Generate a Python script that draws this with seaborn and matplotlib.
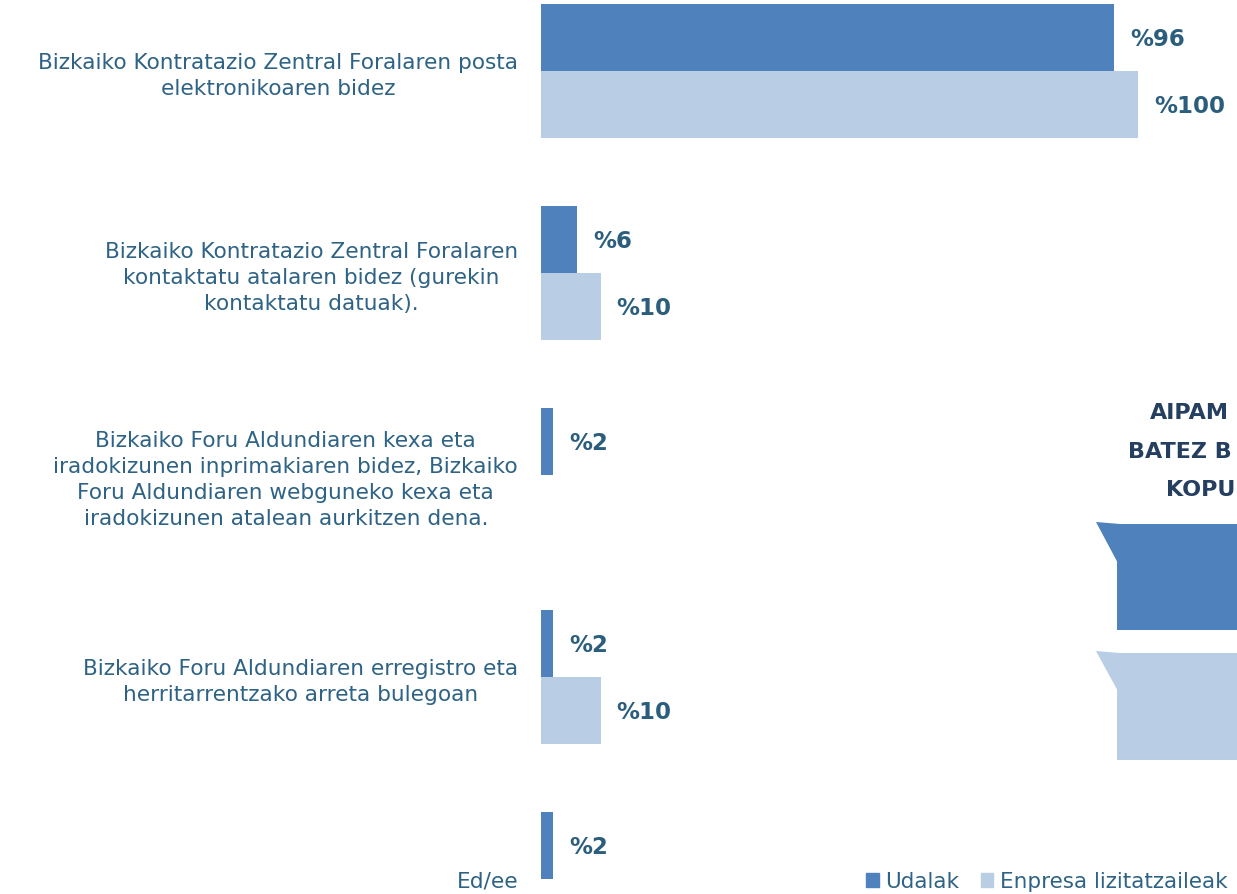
import matplotlib
matplotlib.use("Agg")
import matplotlib.pyplot as plt
import seaborn as sns
import pandas as pd
from matplotlib.patches import Patch, Polygon, Rectangle

categories = [
    "Bizkaiko Kontratazio Zentral Foralaren posta\nelektronikoaren bidez",
    "Bizkaiko Kontratazio Zentral Foralaren\nkontaktatu atalaren bidez (gurekin\nkontaktatu datuak).",
    "Bizkaiko Foru Aldundiaren kexa eta\niradokizunen inprimakiaren bidez, Bizkaiko\nForu Aldundiaren webguneko kexa eta\niradokizunen atalean aurkitzen dena.",
    "Bizkaiko Foru Aldundiaren erregistro eta\nherritarrentzako arreta bulegoan",
    "Ed/ee",
]
series = ["Udalak", "Enpresa lizitatzaileak"]
udalak = [96, 6, 2, 2, 2]
enpresa = [100, 10, 0, 10, 0]
callout_title = ["AIPAM", "BATEZ B", "KOPU"]

dark = "#4F81BD"
light = "#B9CDE5"
label_col = "#2F6385"
value_col = "#2B5E7D"
title_col = "#243F60"

sns.set_theme(style="white")
plt.rcParams["font.family"] = ["DejaVu Sans"]

df = pd.DataFrame({
    "cat": categories * 2,
    "serie": [series[0]] * 5 + [series[1]] * 5,
    "val": udalak + enpresa,
})

W, H = 1237, 894
fig = plt.figure(figsize=(W / 100, H / 100), dpi=100)
x0 = 541
ax = fig.add_axes([x0 / W, 0, (W - x0) / W, 1])
sns.barplot(data=df, y="cat", x="val", hue="serie", hue_order=series,
            palette=[dark, light], width=0.66, orient="h", ax=ax,
            legend=False, saturation=1, linewidth=0)

pxu = (1138 - 541) / 100.0
ax.set_xlim(0, (W - x0) / pxu)
top = -71 / 202.0
bot = (H - 71) / 202.0
ax.set_ylim(bot, top)
ax.set_xlabel("")
ax.set_ylabel("")
ax.set_xticks([])
for s in ax.spines.values():
    s.set_visible(False)

ax.set_yticks(range(len(categories)))
ax.set_yticklabels(categories, fontsize=15.6, color=label_col,
                   multialignment="center", linespacing=1.38)
ax.tick_params(axis="y", length=0, pad=16.5)

for cont, vals in zip(ax.containers, [udalak, enpresa]):
    for bar, v in zip(cont, vals):
        if v == 0:
            continue
        ax.annotate(f"%{v}", (bar.get_width(), bar.get_y() + bar.get_height() / 2),
                    xytext=(16, -2), textcoords="offset pixels",
                    ha="left", va="center", fontsize=16.5, fontweight="bold",
                    color=value_col)

# cropped callout on the right
fig.patches.append(Polygon([[1096 / W, 1 - 522 / H], [1120 / W, 1 - 524 / H], [1120 / W, 1 - 567 / H]],
                           closed=True, transform=fig.transFigure, color=dark, lw=0))
fig.patches.append(Rectangle((1117 / W, 1 - 630 / H), 130 / W, 106 / H,
                             transform=fig.transFigure, color=dark, lw=0))
fig.patches.append(Polygon([[1096 / W, 1 - 651 / H], [1120 / W, 1 - 653 / H], [1120 / W, 1 - 695 / H]],
                           closed=True, transform=fig.transFigure, color=light, lw=0))
fig.patches.append(Rectangle((1117 / W, 1 - 760 / H), 130 / W, 107 / H,
                             transform=fig.transFigure, color=light, lw=0))
for txt, xp, yp in zip(callout_title, [1150, 1128, 1166], [413, 452, 490]):
    fig.text(xp / W, 1 - yp / H, txt, ha="left", va="center", fontsize=16,
             fontweight="bold", color=title_col)

handles = [Patch(color=dark, label=series[0]), Patch(color=light, label=series[1])]
leg = fig.legend(handles=handles, loc="lower right", bbox_to_anchor=(1.008, -0.019),
                 ncol=2, frameon=False, fontsize=15.5, handlelength=0.6, handleheight=0.6,
                 handletextpad=0.3, columnspacing=1.0, labelcolor=label_col)

fig.savefig("out.png", dpi=100)
